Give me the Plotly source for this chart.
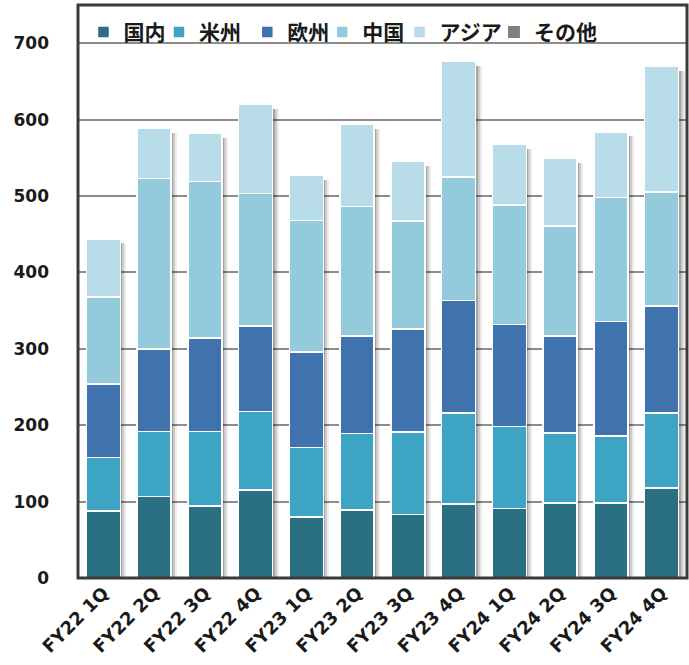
import plotly.graph_objects as go

# Quarterly sales by region (stacked)
quarters = ["FY22 1Q", "FY22 2Q", "FY22 3Q", "FY22 4Q",
            "FY23 1Q", "FY23 2Q", "FY23 3Q", "FY23 4Q",
            "FY24 1Q", "FY24 2Q", "FY24 3Q", "FY24 4Q"]
domestic = [88, 107, 94, 115, 80, 89, 83, 97, 91, 98, 98, 118]
americas = [70, 85, 98, 103, 91, 100, 108, 119, 107, 92, 88, 98]
europe = [96, 108, 122, 112, 125, 128, 135, 147, 134, 127, 150, 140]
china = [114, 223, 205, 173, 172, 169, 141, 162, 156, 144, 162, 149]
asia = [76, 66, 63, 117, 59, 108, 78, 151, 80, 88, 86, 165]
other = [0] * 12

y_ticks = [0, 100, 200, 300, 400, 500, 600, 700]

series = [
    ("国内", domestic, "#2A7082"),
    ("米州", americas, "#3DA5C3"),
    ("欧州", europe, "#4072AE"),
    ("中国", china, "#94CBDC"),
    ("アジア", asia, "#B8DDE8"),
    ("その他", other, "#808080"),
]

totals = [sum(v) for v in zip(*[s[1] for s in series])]

BAR_W = 0.67
fig = go.Figure()

# soft drop shadows behind each column, one overlay axis per layer so they don't stack
shadow_layers = [("x", 0.12, 0.08), ("x2", 0.08, 0.13), ("x3", 0.04, 0.2)]
for axis, shift, alpha in shadow_layers:
    fig.add_trace(go.Bar(
        x=quarters,
        y=[t - 6 for t in totals],
        width=BAR_W,
        offset=-BAR_W / 2 + shift,
        marker=dict(color=f"rgba(0,0,0,{alpha})", line=dict(width=0)),
        showlegend=False,
        hoverinfo="skip",
        xaxis=axis,
    ))

# each legend entry gets its own legend box so the spacing follows the original
legend_x = [0.009, 0.133, 0.278, 0.401, 0.528, 0.683]
legend_font = dict(family="Noto Sans CJK JP", size=21, color="#1a1a1a", weight="bold")
legend_boxes = {}
for i, ((name, values, color), lx) in enumerate(zip(series, legend_x)):
    key = "legend" if i == 0 else f"legend{i + 1}"
    legend_boxes[key] = dict(
        orientation="h", x=lx, y=0.988, xanchor="left", yanchor="top",
        bgcolor="rgba(0,0,0,0)", font=legend_font, itemwidth=30,
    )
    line_w = 0 if name == "その他" else 1.5
    fig.add_trace(go.Bar(
        x=quarters,
        y=values,
        name=name,
        width=BAR_W,
        marker=dict(color=color, line=dict(color="white", width=line_w)),
        hovertemplate="<b>%{x}</b><br>" + name + ": %{y}<extra></extra>",
        xaxis="x4",
        legend=key,
    ))

fig.update_layout(
    barmode="stack",
    width=689,
    height=665,
    margin=dict(l=78, r=2, t=5, b=87),
    paper_bgcolor="white",
    plot_bgcolor="white",
    font=dict(family="DejaVu Sans", size=16, color="#1a1a1a"),
    xaxis=dict(
        tickangle=-45,
        tickfont=dict(family="DejaVu Sans", size=18, color="#1a1a1a", weight="bold"),
        showgrid=False,
        ticks="",
    ),
    xaxis2=dict(overlaying="x", matches="x", visible=False),
    xaxis3=dict(overlaying="x", matches="x", visible=False),
    xaxis4=dict(overlaying="x", matches="x", visible=False),
    yaxis=dict(
        range=[0, 750],
        tickvals=y_ticks,
        tickfont=dict(family="DejaVu Sans", size=17, color="#1a1a1a", weight="bold"),
        showgrid=True,
        gridcolor="#8c8c8c",
        gridwidth=2,
        zeroline=False,
        ticks="",
        ticklabelstandoff=28,
    ),
    **legend_boxes,
)

# dark frame around the plotting area
fig.add_shape(type="rect", xref="paper", yref="paper", x0=0, y0=0, x1=1, y1=1,
              line=dict(color="#3a3a3a", width=3), layer="above")

# drop the page's default body margin so the figure sits at the window origin
fig.write_html("out.html", config={"displayModeBar": False},
               post_script="document.body.style.margin='0';")
